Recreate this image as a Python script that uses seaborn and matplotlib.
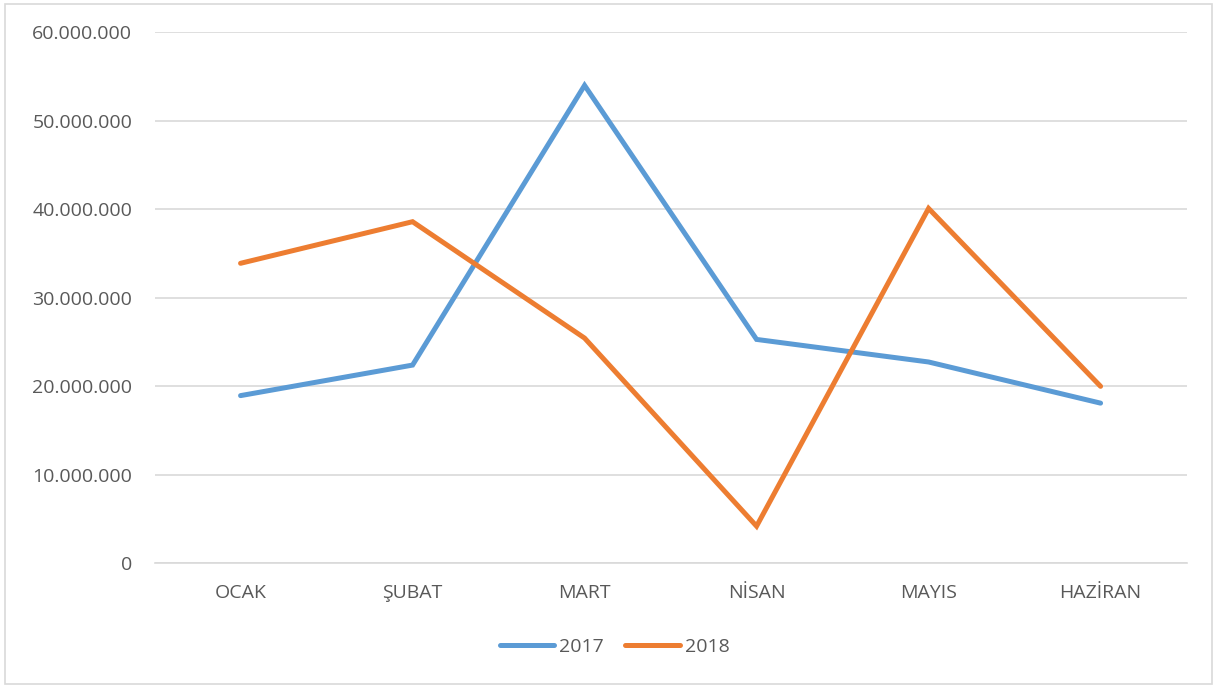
import matplotlib
matplotlib.use("Agg")
import matplotlib.pyplot as plt
from matplotlib.patches import Rectangle
from matplotlib.lines import Line2D
import seaborn as sns
import pandas as pd

months = ["OCAK", "ŞUBAT", "MART", "NİSAN", "MAYIS", "HAZİRAN"]
values_2017 = [18_950_000, 22_400_000, 54_000_000, 25_300_000, 22_750_000, 18_100_000]
values_2018 = [33_900_000, 38_600_000, 25_450_000, 4_200_000, 40_100_000, 20_000_000]
series = ["2017", "2018"]
yticks = [0, 10_000_000, 20_000_000, 30_000_000, 40_000_000, 50_000_000, 60_000_000]

sns.set_theme(style="white")
plt.rcParams['font.family'] = ['Open Sans', 'DejaVu Sans']

rows = []
for s, vals in zip(series, [values_2017, values_2018]):
    for i, (m, v) in enumerate(zip(months, vals)):
        rows.append({"idx": i, "month": m, "value": v, "series": s})
df = pd.DataFrame(rows)

fig = plt.figure(figsize=(12.17, 6.87), dpi=100)
ax = fig.add_axes([0.127, 0.180, 0.848, 0.773])

palette = {"2017": "#5B9BD5", "2018": "#ED7D31"}
sns.lineplot(data=df, x="idx", y="value", hue="series", palette=palette,
             linewidth=3.6, ax=ax, legend=False, sort=False)
for line in ax.get_lines():
    line.set_solid_capstyle("round")
    line.set_solid_joinstyle("miter")

ax.set_xlim(-0.5, 5.5)
ax.set_ylim(0, 60_000_000)
ax.set_yticks(yticks)
ax.set_yticklabels(["0" if t == 0 else f"{t:,}".replace(",", ".") for t in yticks])
ax.set_xticks(range(len(months)))
ax.set_xticklabels(months)
ax.set_xlabel("")
ax.set_ylabel("")
ax.grid(axis="y", color="#D9D9D9", linewidth=1.2)
ax.set_axisbelow(True)
for sp in ["left", "right", "top"]:
    ax.spines[sp].set_visible(False)
ax.spines["bottom"].set_color("#D9D9D9")
ax.spines["bottom"].set_linewidth(1.2)
ax.tick_params(axis="both", length=0, labelsize=14, colors="#595959")
ax.tick_params(axis="y", pad=16)
ax.tick_params(axis="x", pad=15)

handles = [Line2D([0], [0], color=palette[s], linewidth=3.6, solid_capstyle="round") for s in series]
leg = fig.legend(handles, series, loc="center", bbox_to_anchor=(0.505, 0.058), ncol=2,
                 frameon=False, fontsize=14, handlelength=2.8, handletextpad=0.25,
                 columnspacing=1.1)
for t in leg.get_texts():
    t.set_color("#595959")

fig.patches.append(Rectangle((0.004, 0.004), 0.992, 0.990, transform=fig.transFigure,
                             fill=False, edgecolor="#D9D9D9", linewidth=1.2))

fig.savefig("out.png", dpi=100)
